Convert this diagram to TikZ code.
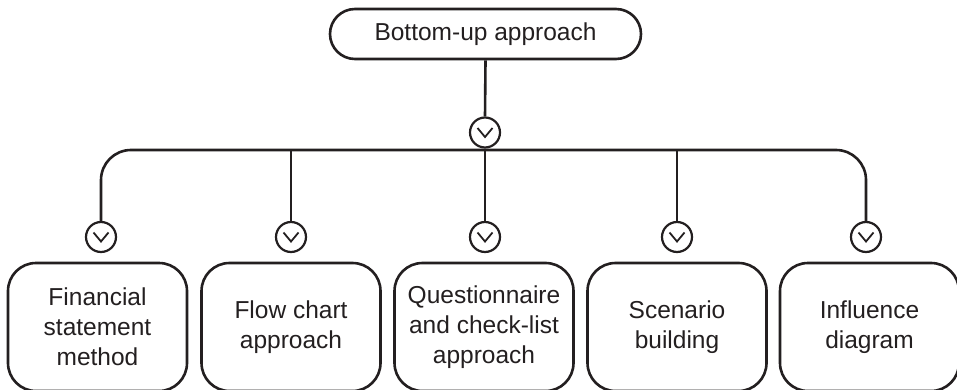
\documentclass[tikz,border=0pt]{standalone}
\usepackage{fontspec}
\setmainfont{Liberation Sans}
\definecolor{ink}{RGB}{35,31,32}
\begin{document}
\begin{tikzpicture}[x=1pt,y=-1pt,
  every node/.style={font=\fontsize{24.5}{30}\selectfont, text=ink},
  link/.style={draw=ink, line width=2.6pt},
  topbox/.style={draw=ink, line width=2.6pt, rounded corners=25pt,
    minimum width=311pt, minimum height=50pt, inner sep=0pt},
  leafbox/.style={draw=ink, line width=2.6pt, rounded corners=28pt,
    minimum width=179pt, minimum height=128pt, align=center, inner sep=0pt},
  joint/.style={draw=ink, line width=2.2pt, circle, minimum size=30pt, inner sep=0pt,
    path picture={
      \draw[ink, line width=1.8pt, line join=miter]
        ([shift={(-7.5pt,4.5pt)}]path picture bounding box.center)
        -- ([shift={(0pt,-4.5pt)}]path picture bounding box.center)
        -- ([shift={(7.5pt,4.5pt)}]path picture bounding box.center);
    }}
]
\useasboundingbox (0,0) rectangle (957,390);

% root of the tree
\node[topbox] (root) at (485.5,34) {Bottom-up approach};
\node[joint] (m) at (485,132.5) {};
\coordinate (hy) at (0,150);

% junction circles above each leaf
\node[joint] (c1) at (101,237) {};
\node[joint] (c2) at (291,237) {};
\node[joint] (c3) at (485,237) {};
\node[joint] (c4) at (677,237) {};
\node[joint] (c5) at (866,237) {};

% leaves
\node[leafbox] (b1) at (97.5,327) {Financial\\statement\\method};
\node[leafbox] (b2) at (291,327) {Flow chart\\approach};
\node[leafbox] (b3) at (484,327) {Questionnaire\\and check-list\\approach};
\node[leafbox] (b4) at (677,327) {Scenario\\building};
\node[leafbox] (b5) at (869.5,327) {Influence\\diagram};

% connectors
\draw[link] (root.south) -- (m.north);
\draw[link, rounded corners=30pt] (c1.north) -- (c1 |- hy) -- (c5 |- hy) -- (c5.north);
\draw[link] (c2.north) -- (c2 |- hy);
\draw[link] (c3.north) -- (c3 |- hy);
\draw[link] (c4.north) -- (c4 |- hy);
\end{tikzpicture}
\end{document}
